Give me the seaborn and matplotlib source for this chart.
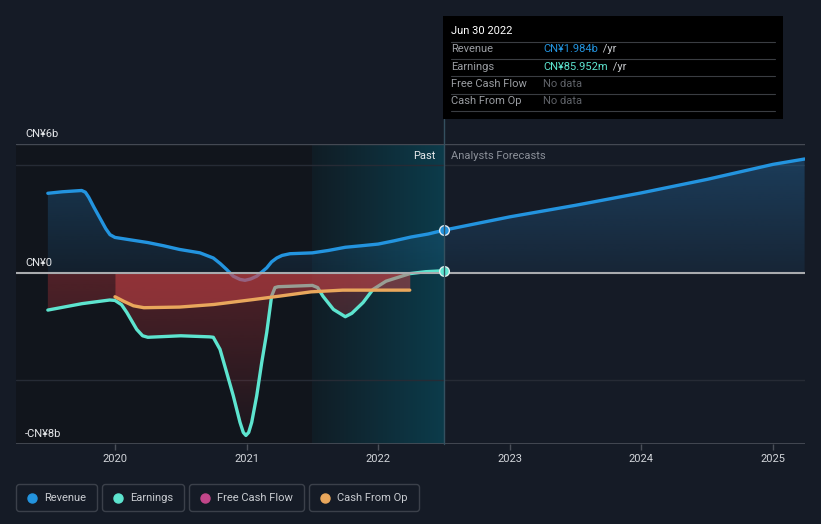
import numpy as np
import pandas as pd
import matplotlib.pyplot as plt
import seaborn as sns
from matplotlib.patches import Rectangle, FancyBboxPatch
from matplotlib.lines import Line2D
from matplotlib.colors import to_rgb
from matplotlib.transforms import IdentityTransform

# revenue (CN¥ b), past and analyst forecast
rev_year = [2019.49, 2019.60, 2019.747, 2019.775, 2019.80, 2019.84, 2019.886, 2019.93, 2019.962,
            2020.00, 2020.114, 2020.25, 2020.37, 2020.49, 2020.646, 2020.747, 2020.80, 2020.849,
            2020.899, 2020.95, 2020.988, 2021.03, 2021.077, 2021.115, 2021.153, 2021.19,
            2021.229, 2021.27, 2021.33, 2021.50, 2021.62, 2021.75, 2021.87, 2022.00, 2022.12,
            2022.25, 2022.38, 2022.50]
rev_val = [3.70, 3.77, 3.83, 3.75, 3.52, 3.05, 2.54, 2.05, 1.77,
           1.64, 1.53, 1.40, 1.25, 1.08, 0.92, 0.68, 0.42, 0.14,
           -0.17, -0.32, -0.36, -0.30, -0.17, 0.02, 0.22, 0.50,
           0.68, 0.80, 0.88, 0.92, 1.03, 1.18, 1.25, 1.33, 1.48,
           1.66, 1.80, 1.98]
fc_year = [2022.50, 2023.00, 2023.50, 2024.00, 2024.50, 2025.00, 2025.24]
fc_val = [1.98, 2.60, 3.14, 3.72, 4.35, 5.05, 5.30]

# earnings (CN¥ b)
earn_year = [2019.49, 2019.75, 2019.96, 2020.00, 2020.05, 2020.09, 2020.165, 2020.21, 2020.25,
             2020.50, 2020.72, 2020.747, 2020.798, 2020.849, 2020.899, 2020.95, 2020.975,
             2020.995, 2021.016, 2021.039, 2021.077, 2021.115, 2021.153, 2021.19, 2021.216,
             2021.24, 2021.50, 2021.54, 2021.58, 2021.66, 2021.75, 2021.80, 2021.885, 2021.96,
             2022.06, 2022.24, 2022.36, 2022.50]
earn_val = [-1.75, -1.45, -1.28, -1.30, -1.50, -1.86, -2.65, -2.95, -3.02,
            -2.95, -3.00, -3.02, -3.58, -4.67, -5.75, -6.99, -7.46,
            -7.60, -7.46, -6.99, -5.75, -4.20, -2.80, -1.10, -0.70,
            -0.66, -0.60, -0.70, -1.10, -1.72, -2.06, -1.90, -1.40, -0.79,
            -0.40, -0.05, 0.04, 0.086]

# cash from operations (CN¥ b)
cfo_year = [2020.00, 2020.07, 2020.14, 2020.22, 2020.49, 2020.75, 2021.05, 2021.25,
            2021.49, 2021.73, 2022.00, 2022.24]
cfo_val = [-1.13, -1.35, -1.55, -1.64, -1.61, -1.49, -1.26, -1.10,
           -0.90, -0.82, -0.82, -0.82]

year_ticks = [2020, 2021, 2022, 2023, 2024, 2025]
y_labels = {6: "CN¥6b", 0: "CN¥0", -8: "-CN¥8b"}
legend_names = ["Revenue", "Earnings", "Free Cash Flow", "Cash From Op"]
legend_colors = ["#2394df", "#5de4cf", "#c2468a", "#e9a75c"]

BG = "#151b26"
sns.set_style("dark", {"axes.facecolor": BG, "figure.facecolor": BG})
plt.rcParams['font.family'] = ['Roboto', 'DejaVu Sans']

W, H = 821, 524
fig = plt.figure(figsize=(W / 100, H / 100), dpi=100)
ax = fig.add_axes([16 / W, 1 - 444 / H, (805 - 16) / W, 300 / H])
X0, X1 = 2019.248, 2025.243
Y0, Y1 = -8, 6
TODAY = 2022.5


def fx(px):
    return px / W


def fy(py):
    return 1 - py / H


def grad_fill(x, y, color, a_top, a_bot, y_top, y_bot, z):
    poly = ax.fill_between(x, y, 0, color="none", lw=0)
    n = 256
    img = np.zeros((n, 1, 4))
    img[..., :3] = to_rgb(color)
    img[..., 3] = np.linspace(a_top, a_bot, n)[:, None]
    im = ax.imshow(img, extent=[X0, X1, y_bot, y_top], aspect="auto",
                   origin="upper", zorder=z, interpolation="bilinear")
    im.set_clip_path(poly.get_paths()[0], transform=ax.transData)


# background regions
ax.axvspan(X0, TODAY, color="#11151c", lw=0, zorder=0)
band = np.zeros((1, 256, 4))
band[..., :3] = to_rgb("#0096b8")
band[..., 3] = np.linspace(0.06, 0.30, 256)[None, :]
ax.imshow(band, extent=[2021.5, TODAY, Y0, Y1], aspect="auto", zorder=0.2,
          interpolation="bilinear")

# grid / frame lines
for gy in (5, -5):
    ax.axhline(gy, color="#262b35", lw=1, zorder=0.5)
ax.axhline(6, color="#444953", lw=1, zorder=0.5)
ax.axhline(-8, color="#4a4f59", lw=1.2, zorder=0.5)

# revenue
rev = pd.DataFrame({"year": rev_year + fc_year[1:], "value": rev_val + fc_val[1:]})
grad_fill(rev["year"], rev["value"], "#2a86cc", 0.32, 0.10, 5.5, 0, 1)
sns.lineplot(data=rev, x="year", y="value", ax=ax, color="#2394df", lw=2.4,
             zorder=2, solid_capstyle="round", legend=False)

# earnings
earn = pd.DataFrame({"year": earn_year, "value": earn_val})
grad_fill(earn["year"], earn["value"], "#d23a40", 0.33, 0.04, 0, -8, 3)
sns.lineplot(data=earn, x="year", y="value", ax=ax, color="#5de4cf", lw=2.4,
             zorder=4, solid_capstyle="round", legend=False)

# cash from op
cfo = pd.DataFrame({"year": cfo_year, "value": cfo_val})
ax.fill_between(cfo["year"], cfo["value"], 0, color="#e04a4c", alpha=0.45, lw=0, zorder=5)
sns.lineplot(data=cfo, x="year", y="value", ax=ax, color="#e9a75c", lw=2.4,
             zorder=6, solid_capstyle="round", legend=False)

ax.axhline(0, color="#a9abae", lw=1.5, zorder=7)

# current-point markers
ax.plot([TODAY], [rev_val[-1]], "o", ms=7, mfc="#2394df", mec="#dfe8f0", mew=1, zorder=9)
ax.plot([TODAY], [earn_val[-1]], "o", ms=7, mfc="#5de4cf", mec="#dff0ee", mew=1, zorder=9)

ax.set_xlim(X0, X1)
ax.set_ylim(Y0, Y1)
ax.set_xticks(year_ticks)
ax.set_xticklabels([str(y) for y in year_ticks])
ax.set_yticks([])
ax.set_xlabel("")
ax.set_ylabel("")
ax.tick_params(axis="x", colors="#4a4f59", length=4, width=1, pad=3,
               labelcolor="#d2d5da", labelsize=8, bottom=True)
for s in ax.spines.values():
    s.set_visible(False)
ax.grid(False)

# y labels above their lines
for val, lab in y_labels.items():
    py = 444 - (val - Y0) / (Y1 - Y0) * 300
    fig.text(fx(25), fy(py - 5), lab, color="#e6e8eb", fontsize=8, va="bottom", ha="left")

fig.text(fx(435), fy(156), "Past", color="#e6e8eb", fontsize=8, ha="right", va="center")
fig.text(fx(451), fy(156), "Analysts Forecasts", color="#8b9099", fontsize=8,
         ha="left", va="center")

# tooltip
fig.add_artist(Line2D([fx(443.5)] * 2, [fy(119), fy(444)], color="#34505f", lw=1, zorder=1))
fig.add_artist(Rectangle((fx(443), fy(119)), 340 / W, 103 / H, facecolor="#000000",
                         edgecolor="none", zorder=2))
fig.text(fx(451), fy(31), "Jun 30 2022", color="#ffffff", fontsize=8, va="center", zorder=3)
for py in (41.5, 58.5, 76, 93.5, 111):
    fig.add_artist(Line2D([fx(451), fx(775)], [fy(py)] * 2, color="#3a3d42", lw=0.8, zorder=3))
rows = [("Revenue", "CN¥1.984b", "#2394df", " /yr", 600),
        ("Earnings", "CN¥85.952m", "#5de4cf", " /yr", 610),
        ("Free Cash Flow", "No data", "#5f6268", "", 0),
        ("Cash From Op", "No data", "#5f6268", "", 0)]
for i, (name, val, col, unit, ux) in enumerate(rows):
    py = 49 + i * 17.5
    fig.text(fx(451), fy(py), name, color="#9a9da2", fontsize=8, va="center", zorder=3)
    fig.text(fx(543), fy(py), val, color=col, fontsize=8, va="center", zorder=3)
    if unit:
        fig.text(fx(ux), fy(py), unit, color="#c8cacd", fontsize=8, va="center", zorder=3)

# legend
boxes = [(16, 97), (102, 184), (189, 304), (309, 419)]
for (bx0, bx1), name, col in zip(boxes, legend_names, legend_colors):
    fig.add_artist(FancyBboxPatch((bx0 + 0.5, H - 511.5), bx1 - bx0, 27,
                                  boxstyle="round,pad=0,rounding_size=3",
                                  transform=IdentityTransform(), facecolor="none",
                                  edgecolor="#3b404a", lw=1))
    fig.add_artist(Line2D([fx(bx0 + 16)], [fy(498)], marker="o", ms=6.5, color=col, lw=0))
    fig.text(fx(bx0 + 28), fy(498), name, color="#c9ccd1", fontsize=8, va="center")

fig.savefig("out.png", dpi=100, facecolor=BG)
